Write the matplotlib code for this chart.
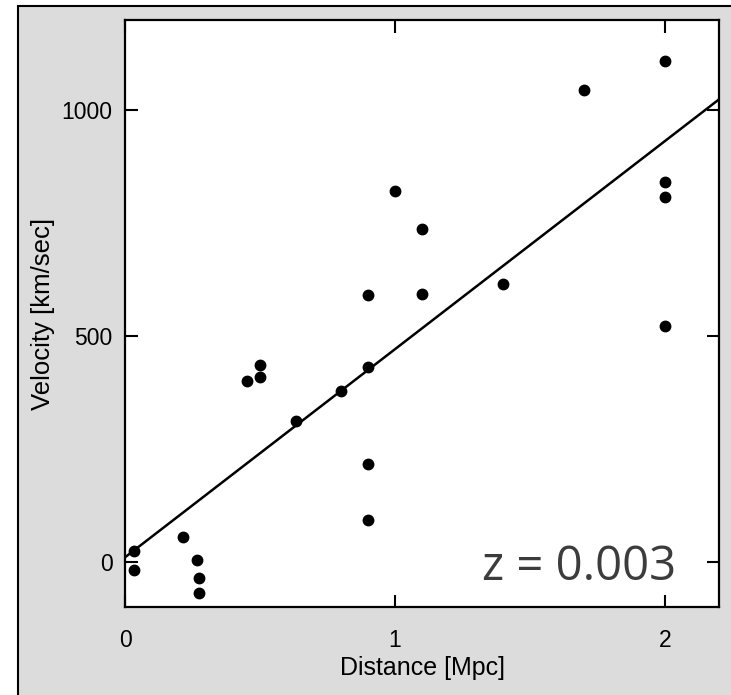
import numpy as np
import matplotlib
matplotlib.use("Agg")
import matplotlib.pyplot as plt
from matplotlib.patches import Rectangle

# distance [Mpc] and velocity [km/sec]
distance = [0.033, 0.034, 0.215, 0.267, 0.274, 0.274, 0.45, 0.5, 0.5,
            0.632, 0.8, 0.9, 0.9, 0.9, 0.9, 1.0, 1.1, 1.1, 1.4,
            1.7, 2.0, 2.0, 2.0, 2.0]
velocity = [25, -17, 54, 5, -36, -70, 400, 436, 410,
            312, 379, 590, 431, 216, 92, 821, 737, 593, 615,
            1044, 1109, 842, 808, 523]

# fitted line as drawn
fit_slope = 461.0
fit_intercept = 10.0

x_ticks = [0, 1, 2]
y_ticks = [0, 500, 1000]
redshift_label = "z = 0.003"

plt.rcParams['font.family'] = ['Liberation Sans', 'DejaVu Sans']

fig = plt.figure(figsize=(7.31, 6.95), dpi=100)
fig.patch.set_facecolor('white')
panel = Rectangle((18 / 731, -0.05), 1.2, (695 - 6) / 695 + 0.05,
                  transform=fig.transFigure, facecolor='#dcdcdc',
                  edgecolor='black', linewidth=1.5, zorder=-10)
fig.add_artist(panel)

ax = fig.add_axes([125 / 731, (695 - 607) / 695, (719 - 125) / 731, (607 - 20) / 695])
ax.set_zorder(5)
ax.set_facecolor('white')

ax.plot(distance, velocity, 'o', color='black', markersize=7.5, zorder=3)

xline = np.array([0, 2.2])
ax.plot(xline, fit_intercept + fit_slope * xline, color='black', linewidth=1.8, zorder=2)

ax.set_xlim(0, 2.2)
ax.set_ylim(-100, 1200)
ax.set_xticks(x_ticks)
ax.set_yticks(y_ticks)
ax.tick_params(direction='in', length=9, width=1.5, top=True, right=True,
               labelsize=16.5, colors='black')
ax.tick_params(axis='x', pad=16)
ax.tick_params(axis='y', pad=9)
for s in ax.spines.values():
    s.set_linewidth(1.6)

fig.text(422 / 731, (695 - 668) / 695, "Distance [Mpc]", ha='center', va='center', fontsize=18)
fig.text(43 / 731, (695 - 314) / 695, "Velocity [km/sec]", ha='center', va='center',
         rotation=90, fontsize=18.5)

ax.text(0.927, 0.046, redshift_label, transform=ax.transAxes, ha='right', va='baseline',
        fontsize=34, color='#3c3c3c', family=['Open Sans', 'DejaVu Sans'])

fig.savefig("out.png", dpi=100)
